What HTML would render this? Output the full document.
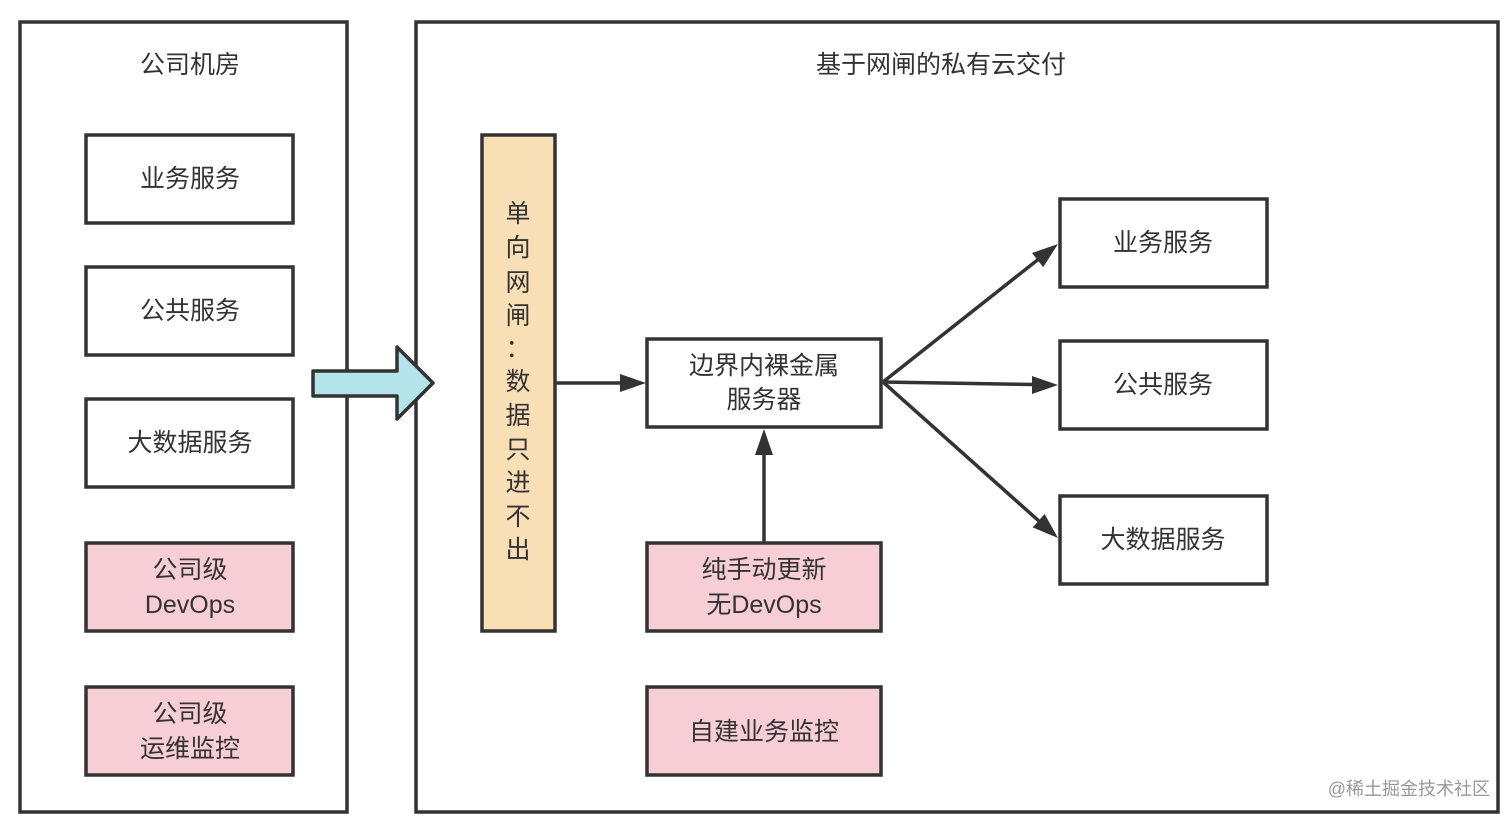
<!DOCTYPE html>
<html><head><meta charset="utf-8"><style>
html,body{margin:0;padding:0;background:#fff;}
svg{display:block;}
text{font-family:"Liberation Sans","Noto Sans CJK SC",sans-serif;font-size:25px;fill:#333;}
</style></head><body>
<svg width="1512" height="828" viewBox="0 0 1512 828" xmlns="http://www.w3.org/2000/svg">
<defs>
<marker id="ah" markerWidth="10" markerHeight="8" refX="9" refY="4" orient="auto" markerUnits="userSpaceOnUse" viewBox="0 0 10 8">
</marker>
</defs>
<g stroke="#333" stroke-width="3.5" fill="#fff">
<rect x="20" y="22" width="327" height="790"/>
<rect x="416" y="22" width="1082" height="790"/>
<rect x="86" y="135" width="207" height="88"/>
<rect x="86" y="267" width="207" height="88"/>
<rect x="86" y="399" width="207" height="88"/>
<rect x="86" y="543" width="207" height="88" fill="#f7ced5"/>
<rect x="86" y="687" width="207" height="88" fill="#f7ced5"/>
<rect x="482" y="135" width="73" height="496" fill="#f8dfb5"/>
<rect x="647" y="339" width="234" height="88"/>
<rect x="647" y="543" width="234" height="88" fill="#f7ced5"/>
<rect x="647" y="687" width="234" height="88" fill="#f7ced5"/>
<rect x="1060" y="199" width="207" height="88"/>
<rect x="1060" y="341" width="207" height="88"/>
<rect x="1060" y="496" width="207" height="88"/>
</g>
<path d="M313 371 L397 371 L397 347 L433 383 L397 419 L397 396 L313 396 Z" fill="#b5e3ea" stroke="#333" stroke-width="3.5" stroke-linejoin="round"/>
<g stroke="#333" stroke-width="3.5" fill="none">
<line x1="555" y1="383" x2="622" y2="383"/>
<line x1="764" y1="542" x2="764" y2="452"/>
<line x1="883" y1="382" x2="1040" y2="258"/>
<line x1="883" y1="382" x2="1034" y2="384.5"/>
<line x1="883" y1="382" x2="1040" y2="522"/>
</g>
<g fill="#333">
<polygon points="646,383 620,374 620,392"/>
<polygon points="764,429 755,455 773,455"/>
<polygon transform="rotate(-38.3 1058 244)" points="1058,244 1032,235 1032,253"/>
<polygon points="1058,385 1032,376 1032,394"/>
<polygon transform="rotate(41.8 1058 538)" points="1058,538 1032,529 1032,547"/>
</g>
<g text-anchor="middle" dominant-baseline="central">
<text x="190" y="65">公司机房</text>
<text x="941" y="65">基于网闸的私有云交付</text>
<text x="190" y="179">业务服务</text>
<text x="190" y="311">公共服务</text>
<text x="190" y="443">大数据服务</text>
<text x="190" y="570">公司级</text>
<text x="190" y="605">DevOps</text>
<text x="190" y="714">公司级</text>
<text x="190" y="749">运维监控</text>
<text x="764" y="366">边界内裸金属</text>
<text x="764" y="400">服务器</text>
<text x="764" y="570">纯手动更新</text>
<text x="764" y="605">无DevOps</text>
<text x="764" y="732">自建业务监控</text>
<text x="1163" y="243">业务服务</text>
<text x="1163" y="385">公共服务</text>
<text x="1163" y="540">大数据服务</text>
<text x="518" y="214">单</text>
<text x="518" y="248">向</text>
<text x="518" y="283">网</text>
<text x="518" y="316">闸</text>
<text x="518" y="349">：</text>
<text x="518" y="382">数</text>
<text x="518" y="416">据</text>
<text x="518" y="450">只</text>
<text x="518" y="483">进</text>
<text x="518" y="517">不</text>
<text x="518" y="550">出</text>
</g>
<text x="1490" y="795" text-anchor="end" style="font-size:18px;fill:#999;">@稀土掘金技术社区</text>
</svg>
</body></html>
